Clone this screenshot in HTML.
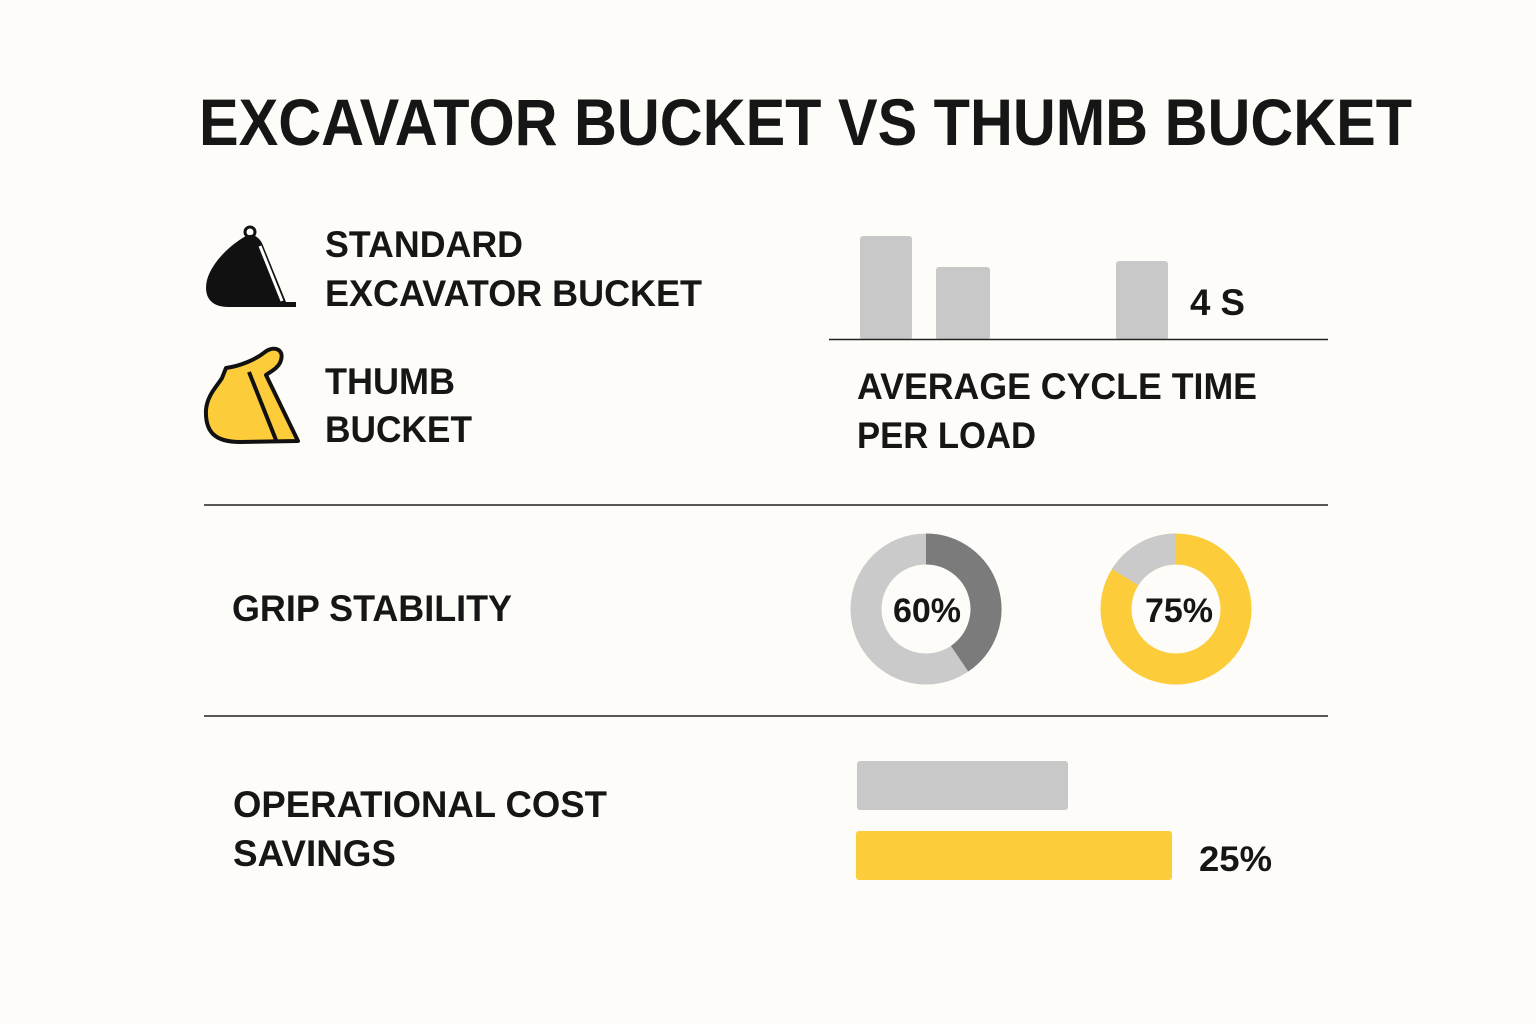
<!DOCTYPE html>
<html><head><meta charset="utf-8"><style>
html,body{margin:0;padding:0;background:#fdfcf8;}
svg{display:block;}
text{font-family:"Liberation Sans",sans-serif;font-weight:bold;fill:#161616;}
</style></head><body>
<svg width="1536" height="1024" viewBox="0 0 1536 1024">
<rect width="1536" height="1024" fill="#fdfcf8"/>
<text x="199" y="145" font-size="66" textLength="1213" lengthAdjust="spacingAndGlyphs">EXCAVATOR BUCKET VS THUMB BUCKET</text>

<!-- black bucket -->
<circle cx="250" cy="232" r="5" fill="none" stroke="#111" stroke-width="3"/>
<path d="M246 236 C230 245 212 262 207 280 C203 298 212 307 228 307 L296 307 L296 302 L286 302 L262 243 C258 236 252 233 246 236 Z" fill="#111"/>
<line x1="260" y1="246" x2="282" y2="301" stroke="#fff" stroke-width="3"/>
<!-- yellow bucket -->
<path d="M226 368 C240 366 255 360 265 352 C275 345 284 350 281 360 C279 368 270 372 266 375 L298 441 L240 442 C215 442 205 432 206 410 C207 395 218 385 222 378 Z" fill="#fccc3a" stroke="#111" stroke-width="4" stroke-linejoin="round"/>
<line x1="249" y1="372" x2="276" y2="440" stroke="#111" stroke-width="4"/>

<text x="325" y="257" font-size="37" textLength="198" lengthAdjust="spacingAndGlyphs">STANDARD</text>
<text x="325" y="306" font-size="37" textLength="377" lengthAdjust="spacingAndGlyphs">EXCAVATOR BUCKET</text>
<text x="325" y="394" font-size="37" textLength="130" lengthAdjust="spacingAndGlyphs">THUMB</text>
<text x="325" y="442" font-size="37" textLength="147" lengthAdjust="spacingAndGlyphs">BUCKET</text>

<rect x="860" y="236" width="52" height="104" rx="3" fill="#c8c8c8"/>
<rect x="936" y="267" width="54" height="73" rx="3" fill="#c8c8c8"/>
<rect x="1116" y="261" width="52" height="79" rx="3" fill="#c8c8c8"/>
<line x1="829" y1="339.5" x2="1328" y2="339.5" stroke="#222" stroke-width="1.5"/>
<text x="1190" y="315" font-size="37" textLength="55" lengthAdjust="spacingAndGlyphs">4 S</text>
<text x="857" y="399" font-size="37" textLength="400" lengthAdjust="spacingAndGlyphs">AVERAGE CYCLE TIME</text>
<text x="857" y="448" font-size="37" textLength="179" lengthAdjust="spacingAndGlyphs">PER LOAD</text>

<line x1="204" y1="505" x2="1328" y2="505" stroke="#222" stroke-width="1.5"/>
<line x1="204" y1="716" x2="1328" y2="716" stroke="#222" stroke-width="1.5"/>

<text x="232" y="621" font-size="37" textLength="280" lengthAdjust="spacingAndGlyphs">GRIP STABILITY</text>

<!-- donut 1: center 926,609 r mid 60, width 30 -->
<circle cx="926" cy="609" r="60" fill="none" stroke="#cacaca" stroke-width="31"/>
<path d="M926 549 A60 60 0 0 1 959.6 658.7" fill="none" stroke="#7a7b7a" stroke-width="31"/>
<text x="927" y="622" font-size="34" text-anchor="middle">60%</text>
<!-- donut 2 -->
<circle cx="1176" cy="609" r="60" fill="none" stroke="#fccc3a" stroke-width="31"/>
<path d="M1125.1 577.2 A60 60 0 0 1 1176 549" fill="none" stroke="#cacaca" stroke-width="31"/>
<text x="1179" y="622" font-size="34" text-anchor="middle">75%</text>

<text x="233" y="817" font-size="37" textLength="374" lengthAdjust="spacingAndGlyphs">OPERATIONAL COST</text>
<text x="233" y="866" font-size="37" textLength="163" lengthAdjust="spacingAndGlyphs">SAVINGS</text>
<rect x="857" y="761" width="211" height="49" rx="3" fill="#c8c8c8"/>
<rect x="856" y="831" width="316" height="49" rx="3" fill="#fccc3a"/>
<text x="1199" y="871" font-size="35" textLength="73" lengthAdjust="spacingAndGlyphs">25%</text>
</svg>
</body></html>
